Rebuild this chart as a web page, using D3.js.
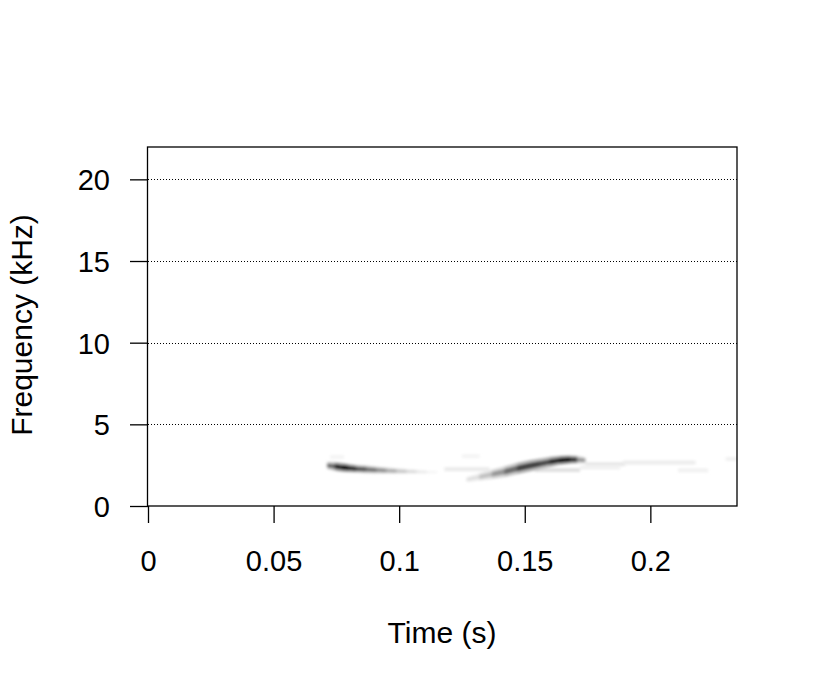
<!DOCTYPE html>
<html>
<head>
<meta charset="utf-8">
<script src="https://cdn.jsdelivr.net/npm/d3@7"></script>
<style>
  html, body { margin: 0; padding: 0; background: #fff; }
  svg text { font-family: "Liberation Sans", Arial, sans-serif; fill: #000; }
</style>
</head>
<body>
<svg id="chart" width="813" height="690"></svg>
<script>
// ---- axis ticks ----
const timeTicks = [0, 0.05, 0.1, 0.15, 0.2];
const timeTickLabels = ["0", "0.05", "0.1", "0.15", "0.2"];
const freqTicks = [0, 5, 10, 15, 20];
const freqGrid = [5, 10, 15, 20];
const timeMax = 0.2345;   // s
const freqMax = 21.95;    // kHz

// ---- spectrogram ridges (time s, frequency kHz, relative level 0..1, half bandwidth kHz) ----
// syllable 1: short descending note
const note1Time  = [0.0715, 0.0745, 0.0775, 0.0800, 0.0830, 0.0870, 0.0910, 0.0950, 0.0990, 0.1030, 0.1070, 0.1110, 0.1150];
const note1Freq  = [2.48, 2.42, 2.36, 2.32, 2.28, 2.24, 2.20, 2.17, 2.14, 2.12, 2.10, 2.08, 2.07];
const note1Level = [0.50, 0.78, 0.95, 0.90, 0.78, 0.66, 0.56, 0.46, 0.36, 0.26, 0.18, 0.10, 0.05];
const note1Bw    = [0.22, 0.26, 0.26, 0.24, 0.22, 0.22, 0.20, 0.18, 0.16, 0.14, 0.12, 0.10, 0.08];
// syllable 2: rising note
const note2Time  = [0.1270, 0.1320, 0.1370, 0.1420, 0.1470, 0.1520, 0.1560, 0.1600, 0.1640, 0.1680, 0.1710, 0.1740];
const note2Freq  = [1.62, 1.78, 1.94, 2.10, 2.30, 2.46, 2.58, 2.70, 2.80, 2.84, 2.84, 2.80];
const note2Level = [0.14, 0.28, 0.42, 0.56, 0.72, 0.85, 0.72, 0.78, 0.92, 0.95, 0.70, 0.28];
const note2Bw    = [0.16, 0.22, 0.28, 0.32, 0.34, 0.34, 0.32, 0.30, 0.26, 0.24, 0.22, 0.18];
// faint components
const faintTime0 = [0.0725, 0.1180, 0.1250, 0.1540, 0.1740, 0.1720, 0.1890, 0.2110, 0.2300];
const faintTime1 = [0.0780, 0.1360, 0.1320, 0.1720, 0.1900, 0.1880, 0.2180, 0.2230, 0.2345];
const faintFreq  = [3.00, 2.25, 3.05, 2.20, 2.56, 2.36, 2.66, 2.18, 2.88];
const faintLevel = [0.08, 0.14, 0.08, 0.20, 0.16, 0.10, 0.13, 0.10, 0.10];

// ---- layout ----
const svg = d3.select("#chart");
const x = d3.scaleLinear().domain([0, timeMax]).range([148, 737]);
const y = d3.scaleLinear().domain([0, freqMax]).range([506, 147.5]);
const tickFont = 29;
const titleFont = 30;

// blur filter for a smooth spectrogram look
const defs = svg.append("defs");
defs.append("filter").attr("id", "blur").attr("x", "-20%").attr("y", "-200%")
  .attr("width", "140%").attr("height", "500%")
  .append("feGaussianBlur").attr("stdDeviation", "1.8 1.1");
defs.append("clipPath").attr("id", "plotClip").append("rect")
  .attr("x", x(0)).attr("y", y(freqMax)).attr("width", x(timeMax) - x(0)).attr("height", y(0) - y(freqMax));

const shade = v => d3.interpolateGreys(Math.max(0, Math.min(1, v)));

const spec = svg.append("g").attr("clip-path", "url(#plotClip)")
  .append("g").attr("filter", "url(#blur)");

// faint bands
faintTime0.forEach((t0, i) => {
  spec.append("rect")
    .attr("x", x(t0)).attr("width", x(faintTime1[i]) - x(t0))
    .attr("y", y(faintFreq[i] + 0.13)).attr("height", y(0) - y(0.26))
    .attr("fill", shade(faintLevel[i]));
});

function drawRidge(times, freqs, levels, bws) {
  const layers = [[1.0, 0.5], [0.45, 1.0]];
  layers.forEach(([bf, lf]) => {
    for (let i = 0; i < times.length - 1; i++) {
      const v = (levels[i] + levels[i + 1]) / 2 * lf;
      const pts = [
        [x(times[i]), y(freqs[i] + bws[i] * bf)],
        [x(times[i + 1]), y(freqs[i + 1] + bws[i + 1] * bf)],
        [x(times[i + 1]), y(freqs[i + 1] - bws[i + 1] * bf)],
        [x(times[i]), y(freqs[i] - bws[i] * bf)]
      ];
      spec.append("path")
        .attr("d", "M" + pts.map(p => p.join(",")).join("L") + "Z")
        .attr("fill", shade(v)).attr("stroke", shade(v)).attr("stroke-width", 0.6);
    }
  });
}
drawRidge(note1Time, note1Freq, note1Level, note1Bw);
drawRidge(note2Time, note2Freq, note2Level, note2Bw);

// dotted grid
svg.append("g").selectAll("line").data(freqGrid).join("line")
  .attr("x1", x(0)).attr("x2", x(timeMax))
  .attr("y1", d => Math.round(y(d)) + 0.5).attr("y2", d => Math.round(y(d)) + 0.5)
  .attr("stroke", "#000").attr("stroke-width", 1).attr("stroke-dasharray", "1,2");

// box
svg.append("rect")
  .attr("x", x(0) - 0.5).attr("y", y(freqMax) - 0.5)
  .attr("width", x(timeMax) - x(0) + 0.5).attr("height", y(0) - y(freqMax) + 0.5)
  .attr("fill", "none").attr("stroke", "#000").attr("stroke-width", 1.3);

// x axis
const xAxis = d3.axisBottom(x).tickValues(timeTicks)
  .tickFormat((d, i) => timeTickLabels[i]).tickSize(17).tickPadding(27);
const gx = svg.append("g").attr("transform", `translate(0,${y(0)})`).call(xAxis);
gx.select(".domain").remove();
gx.selectAll(".tick line").attr("stroke", "#000").attr("stroke-width", 1.3);
gx.selectAll(".tick text").attr("font-size", tickFont).attr("font-family", "Liberation Sans, Arial, sans-serif");

// y axis
const yAxis = d3.axisLeft(y).tickValues(freqTicks).tickSize(18).tickPadding(20);
const gy = svg.append("g").attr("transform", `translate(${x(0)},0)`).call(yAxis);
gy.select(".domain").remove();
gy.selectAll(".tick line").attr("stroke", "#000").attr("stroke-width", 1.3);
gy.selectAll(".tick text").attr("font-size", tickFont).attr("font-family", "Liberation Sans, Arial, sans-serif")
  .attr("dy", "0.36em");

// axis titles
svg.append("text").attr("x", 442).attr("y", 643).attr("text-anchor", "middle")
  .attr("font-size", titleFont).text("Time (s)");
svg.append("text").attr("transform", "translate(32,325) rotate(-90)").attr("text-anchor", "middle")
  .attr("font-size", titleFont).text("Frequency (kHz)");
</script>
</body>
</html>
